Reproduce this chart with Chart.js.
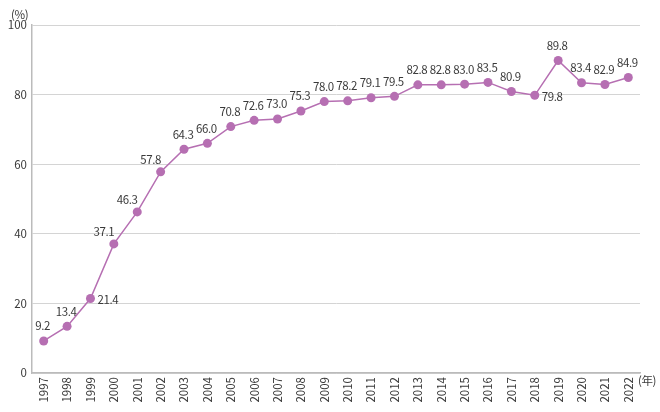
<!DOCTYPE html>
<html>
<head>
<meta charset="utf-8">
<script src="https://cdn.jsdelivr.net/npm/chart.js@4"></script>
<style>
  html, body { margin: 0; padding: 0; background: #fff; }
  #wrap { width: 660px; height: 412px; }
</style>
</head>
<body>
<div id="wrap"><canvas id="myChart"></canvas></div>
<script>
// Datos del gráfico
var years = ["1997", "1998", "1999", "2000", "2001", "2002", "2003", "2004", "2005",
  "2006", "2007", "2008", "2009", "2010", "2011", "2012", "2013", "2014", "2015",
  "2016", "2017", "2018", "2019", "2020", "2021", "2022"];
var rates = [9.2, 13.4, 21.4, 37.1, 46.3, 57.8, 64.3, 66.0, 70.8, 72.6, 73.0, 75.3,
  78.0, 78.2, 79.1, 79.5, 82.8, 82.8, 83.0, 83.5, 80.9, 79.8, 89.8, 83.4, 82.9, 84.9];
var yTicks = [0, 20, 40, 60, 80, 100];

var FONT = '"Noto Sans CJK JP", "Noto Sans", sans-serif';
var TEXT = '#3a3a3a';
var LINE = '#b66fb2';

// etiquetas que no van encima del punto
var labelPos = { "1999": "r", "2000": "tl", "2001": "tl", "2002": "tl", "2018": "r" };

var valueLabels = {
  id: 'valueLabels',
  afterDatasetsDraw: function (chart) {
    var ctx = chart.ctx;
    var pts = chart.getDatasetMeta(0).data;
    ctx.save();
    ctx.font = '11.5px ' + FONT;
    ctx.letterSpacing = '-0.4px';
    ctx.fillStyle = TEXT;
    ctx.textBaseline = 'middle';
    pts.forEach(function (p, i) {
      var txt = rates[i].toFixed(1);
      var pos = labelPos[years[i]] || 't';
      if (pos === 'r') {
        ctx.textAlign = 'left';
        ctx.fillText(txt, p.x + 7, p.y + 1);
      } else if (pos === 'tl') {
        ctx.textAlign = 'center';
        ctx.fillText(txt, p.x - 10, p.y - 12);
      } else {
        ctx.textAlign = 'center';
        ctx.fillText(txt, p.x - 1, p.y - 15);
      }
    });
    // unidades
    ctx.textAlign = 'left';
    ctx.fillText('(%)', 11, 15);
    ctx.fillText('(年)', 638, 381);
    ctx.restore();
  }
};

var config = {
  type: 'line',
  data: {
    labels: years,
    datasets: [{
      data: rates,
      borderColor: LINE,
      backgroundColor: LINE,
      borderWidth: 1.5,
      pointRadius: 4.5,
      pointHoverRadius: 4.5,
      pointBackgroundColor: LINE,
      pointBorderWidth: 0,
      tension: 0
    }]
  },
  options: {
    responsive: true,
    maintainAspectRatio: false,
    animation: false,
    layout: { padding: { top: 25, right: 20, left: 0, bottom: 0 } },
    plugins: {
      legend: { display: false },
      tooltip: { enabled: false }
    },
    scales: {
      x: {
        offset: true,
        grid: { display: false, drawTicks: false },
        border: { display: true, color: '#bbb', width: 1.5 },
        ticks: {
          color: TEXT,
          font: { family: FONT, size: 11.5 },
          minRotation: 90,
          maxRotation: 90,
          padding: 4,
          autoSkip: false
        },
        afterFit: function (s) { s.height = 39; }
      },
      y: {
        min: 0,
        max: 100,
        afterBuildTicks: function (s) {
          s.ticks = yTicks.map(function (v) { return { value: v }; });
        },
        grid: { color: '#d4d4d4', lineWidth: 1, drawTicks: false },
        border: { display: true, color: '#bbb', width: 1.5 },
        ticks: {
          color: TEXT,
          font: { family: FONT, size: 11.5 },
          padding: 5
        },
        afterFit: function (s) { s.width = 32; }
      }
    }
  },
  plugins: [valueLabels]
};

var myChart = new Chart(document.getElementById('myChart'), config);
</script>
</body>
</html>
